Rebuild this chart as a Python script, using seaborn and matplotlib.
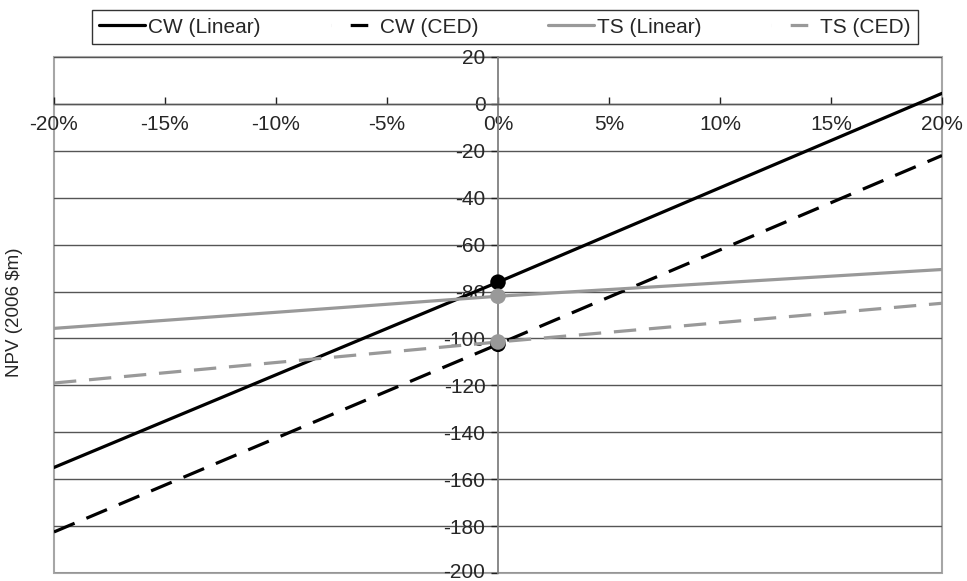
import matplotlib
matplotlib.use("Agg")
import matplotlib.pyplot as plt
import matplotlib.transforms as mtransforms
import seaborn as sns
import pandas as pd
from matplotlib.patches import Rectangle
from matplotlib.lines import Line2D
from matplotlib.ticker import FuncFormatter, MultipleLocator

# Data
x_change = [-20, 0, 20]                 # % change
cw_linear = [-155.0, -76.0, 4.5]
cw_ced = [-182.5, -102.5, -22.0]
ts_linear = [-95.7, -82.0, -70.6]
ts_ced = [-119.0, -101.5, -85.0]
series_names = ["CW (Linear)", "CW (CED)", "TS (Linear)", "TS (CED)"]
x_ticks = [-20, -15, -10, -5, 0, 5, 10, 15, 20]
y_ticks = [-200, -180, -160, -140, -120, -100, -80, -60, -40, -20, 0, 20]

sns.set_theme(style="white")
plt.rcParams["font.family"] = ["Liberation Sans", "DejaVu Sans"]
plt.rcParams["axes.unicode_minus"] = False

FS = 15

fig = plt.figure(figsize=(9.67, 5.81), dpi=100)
ax = fig.add_axes([54 / 967, 1 - 573 / 581, 888 / 967, 516 / 581])

black = "#000000"
gray = "#999999"
styles = {
    "CW (Linear)": dict(color=black, dashes=None),
    "CW (CED)": dict(color=black, dashes=(7, 4)),
    "TS (Linear)": dict(color=gray, dashes=None),
    "TS (CED)": dict(color=gray, dashes=(7, 4)),
}
values = {"CW (Linear)": cw_linear, "CW (CED)": cw_ced,
          "TS (Linear)": ts_linear, "TS (CED)": ts_ced}

lw = 2.3
handles = []
for name in series_names:
    df = pd.DataFrame({"x": x_change, "y": values[name]})
    st = styles[name]
    sns.lineplot(data=df, x="x", y="y", ax=ax, color=st["color"], linewidth=lw,
                 zorder=3)
    line = ax.lines[-1]
    if st["dashes"] is not None:
        line.set_dashes(st["dashes"])
    h = Line2D([], [], color=st["color"], linewidth=lw)
    if st["dashes"] is not None:
        h.set_linestyle((0, (0.01, 6, 5.5, 20)))
    handles.append(h)

# markers at 0%
for name in series_names:
    df = pd.DataFrame({"x": x_change, "y": values[name]})
    df0 = df[df["x"] == 0]
    sns.scatterplot(data=df0, x="x", y="y", ax=ax, color=styles[name]["color"],
                    s=125, edgecolor="none", zorder=4)

ax.set_xlim(-20, 20)
ax.set_ylim(-200, 20)
ax.set_xlabel("")
ax.set_ylabel("")

ax.set_xticks(x_ticks)
ax.set_yticks(y_ticks)
ax.xaxis.set_major_formatter(FuncFormatter(lambda v, p: f"{v:.0f}%"))
ax.yaxis.set_major_formatter(FuncFormatter(lambda v, p: f"{v:.0f}"))

# horizontal gridlines
ax.yaxis.grid(True, color="#555555", linewidth=1.0, zorder=1)
ax.xaxis.grid(False)
ax.set_axisbelow(True)

# axes crossing at zero
ax.spines["left"].set_position(("data", 0))
ax.spines["bottom"].set_position(("data", 0))
ax.spines["left"].set_color("#808080")
ax.spines["bottom"].set_color("#555555")
ax.spines["left"].set_linewidth(1.3)
ax.spines["bottom"].set_linewidth(1.0)
ax.spines["top"].set_visible(False)
ax.spines["right"].set_visible(False)

ax.tick_params(axis="x", direction="in", length=5, width=1, color="#222222",
               labelsize=FS, pad=8, bottom=True)
ax.tick_params(axis="y", direction="out", length=5, width=1, color="#222222",
               labelsize=FS, pad=4, left=True)

# nudge the lowest y label up a little so it is not cut at the figure edge
fig.canvas.draw()
ylabels = ax.get_yticklabels()
if ylabels:
    low = ylabels[0]
    low.set_transform(low.get_transform() +
                      mtransforms.ScaledTranslation(0, 3 / 100, fig.dpi_scale_trans))

# outer plot frame
ax.add_patch(Rectangle((0, 0), 1, 1, transform=ax.transAxes, fill=False,
                       edgecolor="#a6a6a6", linewidth=1.5, clip_on=False,
                       zorder=0))

# y label
fig.text(15 / 967, 1 - 312 / 581, "NPV (2006 $m)", rotation=90, ha="center",
         va="center", fontsize=13.5)

# legend
leg = fig.legend(handles, series_names, loc="lower left",
                 bbox_to_anchor=(92 / 967, 1 - 44 / 581, 826 / 967, 34 / 581),
                 mode="expand", ncol=4, fontsize=FS, frameon=True,
                 fancybox=False, edgecolor="#000000", handlelength=2.2,
                 handletextpad=0.15, borderaxespad=0, borderpad=0.35,
                 columnspacing=1.5)
leg.get_frame().set_linewidth(1.0)

fig.savefig("out.png", dpi=100)
